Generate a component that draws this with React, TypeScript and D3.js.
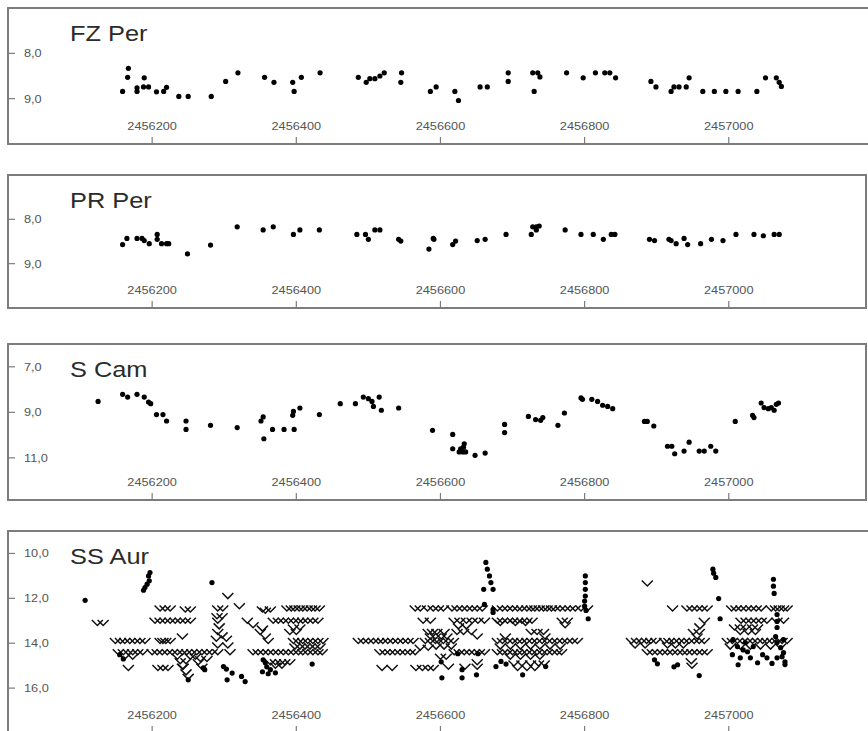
import React from "react";
import * as d3 from "d3";

// Julian dates are stored as days after JD0
const JD0 = 2456000;
const xTicks = [2456200, 2456400, 2456600, 2456800, 2457000];

const fzPer: [number, number][] = [
  [159, 8.84], [167, 8.33], [166, 8.53], [179, 8.84], [179, 8.76], [189, 8.54], [188, 8.74], [195, 8.74],
  [206, 8.85], [216, 8.84], [220, 8.75], [237, 8.95], [250, 8.95], [282, 8.95], [302, 8.62], [319, 8.43],
  [356, 8.53], [369, 8.64], [395, 8.64], [397, 8.84], [407, 8.53], [433, 8.43], [486, 8.53], [497, 8.64],
  [502, 8.56], [509, 8.56], [516, 8.5], [522, 8.43], [546, 8.43], [545, 8.64], [586, 8.84], [594, 8.74],
  [620, 8.84], [625, 9.04], [655, 8.74], [665, 8.74], [694, 8.43], [694, 8.62], [728, 8.43], [735, 8.43],
  [738, 8.52], [730, 8.84], [775, 8.43], [798, 8.54], [815, 8.43], [828, 8.43], [835, 8.43], [843, 8.54],
  [892, 8.62], [899, 8.74], [920, 8.84], [924, 8.74], [931, 8.74], [941, 8.74], [945, 8.54], [964, 8.84],
  [980, 8.84], [996, 8.84], [1013, 8.84], [1039, 8.84], [1051, 8.54], [1066, 8.54], [1070, 8.64], [1073, 8.73],
];

const prPer: [number, number][] = [
  [159, 8.57], [165, 8.43], [179, 8.43], [186, 8.43], [189, 8.48], [196, 8.55], [207, 8.34], [207, 8.45],
  [213, 8.55], [220, 8.55], [223, 8.55], [249, 8.78], [281, 8.58], [318, 8.17], [354, 8.24], [368, 8.17],
  [396, 8.34], [405, 8.24], [432, 8.24], [484, 8.34], [496, 8.34], [500, 8.45], [509, 8.24], [516, 8.24],
  [542, 8.45], [545, 8.49], [584, 8.67], [590, 8.43], [591, 8.45], [617, 8.57], [621, 8.49], [651, 8.48],
  [662, 8.45], [691, 8.34], [726, 8.34], [728, 8.17], [733, 8.17], [737, 8.15], [733, 8.24], [773, 8.24],
  [795, 8.34], [812, 8.34], [826, 8.45], [837, 8.34], [842, 8.34], [890, 8.45], [897, 8.48], [917, 8.45],
  [920, 8.48], [927, 8.55], [938, 8.43], [943, 8.57], [961, 8.55], [976, 8.45], [992, 8.48], [1010, 8.34],
  [1035, 8.34], [1048, 8.37], [1063, 8.34], [1070, 8.34],
];

const sCam: [number, number][] = [
  [125, 8.52], [159, 8.21], [166, 8.33], [179, 8.21], [189, 8.33], [195, 8.55], [198, 8.62], [206, 9.1],
  [215, 9.1], [220, 9.38], [247, 9.38], [247, 9.75], [281, 9.57], [318, 9.67], [351, 9.38], [354, 9.2],
  [355, 10.16], [367, 9.75], [383, 9.75], [397, 9.75], [395, 9.13], [396, 8.96], [405, 8.81], [432, 9.1],
  [461, 8.62], [482, 8.62], [493, 8.33], [500, 8.4], [505, 8.52], [507, 8.74], [515, 8.33], [518, 8.91],
  [542, 8.81], [589, 9.79], [617, 9.97], [617, 10.6], [626, 10.74], [631, 10.74], [633, 10.38], [635, 10.74],
  [628, 10.6], [632, 10.53], [648, 10.89], [662, 10.79], [689, 9.53], [689, 9.89], [722, 9.18], [732, 9.32],
  [739, 9.35], [742, 9.23], [763, 9.57], [772, 9.03], [795, 8.37], [797, 8.43], [810, 8.43], [818, 8.52],
  [825, 8.69], [832, 8.74], [839, 8.84], [883, 9.4], [887, 9.4], [896, 9.6], [915, 10.49], [921, 10.49],
  [925, 10.82], [938, 10.7], [945, 10.31], [959, 10.7], [966, 10.7], [975, 10.49], [982, 10.7], [1009, 9.4],
  [1033, 9.13], [1035, 9.23], [1045, 8.59], [1049, 8.79], [1055, 8.84], [1059, 8.79], [1063, 8.91], [1066, 8.65],
  [1069, 8.59],
];

const ssAurObs: [number, number][] = [
  [107, 12.09], [197, 10.85], [195, 11.0], [196, 11.22], [193, 11.37], [190, 11.52], [188, 11.64], [283, 11.3],
  [155, 14.51], [160, 14.7], [250, 15.63], [271, 15.1], [273, 15.18], [299, 15.04], [303, 15.15], [311, 15.33],
  [304, 15.63], [324, 15.48], [329, 15.71], [354, 14.74], [357, 14.87], [359, 15.05], [364, 15.18], [353, 15.27],
  [361, 15.36], [371, 15.32], [422, 14.93],
  [663, 10.4], [665, 10.7], [668, 11.0], [670, 11.3], [673, 11.6], [660, 11.6], [661, 12.27], [673, 12.49], [673, 12.63],
  [801, 11.0], [801, 11.3], [801, 11.6], [801, 11.9], [800, 12.12], [800, 12.35], [802, 12.54], [805, 12.91],
  [601, 14.83], [602, 15.54], [630, 15.18], [630, 15.54], [650, 15.41], [677, 15.04], [684, 14.81], [691, 14.93],
  [714, 15.41], [746, 15.04], [624, 14.47], [652, 14.47],
  [897, 14.74], [901, 14.92], [924, 15.05], [929, 14.96], [959, 15.44], [978, 10.7], [982, 11.07], [979, 10.88],
  [986, 12.01], [988, 12.91], [1062, 11.15], [1062, 11.46], [1063, 11.78], [1067, 12.72], [1067, 13.03], [1067, 13.3],
  [1006, 13.84], [1005, 14.51], [1012, 14.15], [1016, 14.65], [1013, 14.96], [1023, 13.97], [1026, 14.38], [1030, 14.65],
  [1034, 14.15], [1040, 14.87], [1047, 14.51], [1053, 14.65], [1065, 13.7], [1067, 13.97], [1072, 14.2], [1076, 13.84],
  [1074, 14.6], [1078, 14.83], [1076, 14.42], [1067, 14.65], [1060, 14.9], [1020, 14.3], [1078, 14.95],
];

// "fainter than" limits (drawn as V marks)
const ssAurLimits: [number, number][] = [
  [124, 13.1], [132, 13.1],
  [149, 13.9], [156, 13.9], [162, 13.9], [169, 13.9], [176, 13.9], [183, 13.9], [190, 13.9],
  [211, 13.9], [215, 13.9], [219, 13.9], [225, 13.9],
  [153, 14.4], [160, 14.4], [167, 14.4], [173, 14.4], [180, 14.4], [187, 14.4],
  [200, 14.4], [207, 14.4], [214, 14.4], [221, 14.4], [228, 14.4], [235, 14.4], [242, 14.4], [248, 14.4], [255, 14.4],
  [262, 14.4], [269, 14.4], [276, 14.4], [283, 14.4],
  [162, 14.6], [173, 14.6], [167, 15.1], [208, 15.1], [215, 15.1], [222, 15.1],
  [211, 12.45], [218, 12.45], [225, 12.45], [246, 12.5], [253, 12.5], [291, 12.45], [298, 12.45],
  [204, 13.0], [211, 13.0], [218, 13.0], [225, 13.0], [232, 13.0], [239, 13.0], [246, 13.0], [253, 13.0],
  [242, 13.7],
  [235, 14.6], [239, 14.8], [243, 15.05], [247, 15.3], [250, 15.5], [253, 14.6], [247, 14.8], [242, 15.05],
  [260, 14.6], [264, 14.85], [269, 15.05], [276, 14.7], [267, 14.7],
  [305, 11.9], [290, 12.8], [297, 12.8], [291, 13.0], [293, 13.25], [291, 13.5], [289, 13.8], [303, 13.8],
  [291, 14.1], [305, 14.1], [308, 14.4], [297, 13.65], [291, 14.4],
  [321, 12.35],
  [332, 13.0], [340, 13.2], [350, 13.5], [357, 13.7], [361, 13.9], [353, 13.35],
  [357, 12.55], [353, 12.5], [364, 12.5],
  [340, 14.4], [347, 14.4], [354, 14.4], [361, 14.4], [368, 14.4], [375, 14.4], [382, 14.4], [389, 14.4],
  [396, 14.4], [403, 14.4], [409, 14.4], [416, 14.4], [423, 14.4], [430, 14.4], [436, 14.4],
  [398, 14.15], [405, 14.15], [412, 14.15], [419, 14.15], [426, 14.15], [433, 14.15],
  [396, 13.9], [403, 13.9], [409, 13.9], [416, 13.9], [423, 13.9], [430, 13.9], [437, 13.9],
  [368, 13.0], [375, 13.0], [382, 13.0], [389, 13.0], [396, 13.0], [403, 13.0], [409, 13.0], [416, 13.0], [423, 13.0], [430, 13.0],
  [387, 12.45], [393, 12.45], [398, 12.45], [404, 12.45], [409, 12.45], [415, 12.45], [421, 12.45], [426, 12.45], [432, 12.45],
  [396, 13.3], [405, 13.3],
  [364, 14.85], [371, 14.85], [378, 14.85], [384, 14.85], [391, 14.85], [371, 15.0], [380, 15.0],
  [391, 13.5], [400, 13.5],
  [486, 13.9], [493, 13.9], [500, 13.9], [507, 13.9], [514, 13.9], [520, 13.9], [527, 13.9], [534, 13.9],
  [541, 13.9], [548, 13.9], [555, 13.9], [562, 13.9],
  [516, 14.4], [523, 14.4], [530, 14.4], [537, 14.4], [544, 14.4], [551, 14.4], [558, 14.4], [565, 14.4],
  [519, 15.1], [533, 15.1], [566, 15.1], [575, 15.1], [583, 15.1], [590, 15.1],
  [565, 12.45], [572, 12.45], [582, 12.45], [590, 12.45],
  [576, 13.0], [586, 13.0],
  [583, 13.5], [589, 13.5], [586, 13.7], [579, 13.9], [586, 13.9], [593, 13.9],
  [572, 14.2], [583, 14.2],
  [597, 12.45], [604, 12.45], [616, 12.45], [623, 12.45], [630, 12.45], [637, 12.45], [644, 12.45], [651, 12.45], [658, 12.45],
  [619, 13.0], [627, 13.0], [636, 13.0], [644, 13.0], [652, 13.0], [661, 13.0],
  [625, 13.25], [636, 13.25],
  [595, 13.5], [605, 13.5], [623, 13.5], [632, 13.5], [643, 13.5],
  [593, 13.7], [601, 13.7], [609, 13.7], [651, 13.7],
  [597, 13.9], [604, 13.9], [611, 13.9], [618, 13.9],
  [594, 14.15], [605, 14.15], [615, 14.15],
  [619, 14.4], [626, 14.4], [633, 14.4], [640, 14.4], [647, 14.4], [654, 14.4], [661, 14.4],
  [651, 14.85], [651, 15.05], [634, 15.05], [611, 15.05], [600, 14.6], [608, 14.6],
  [679, 12.45], [686, 12.45], [693, 12.45], [700, 12.45], [707, 12.45], [713, 12.45], [720, 12.45], [726, 12.45],
  [731, 12.45], [737, 12.45], [743, 12.45], [748, 12.45], [754, 12.45], [759, 12.45], [766, 12.45], [773, 12.45],
  [780, 12.45], [787, 12.45],
  [679, 13.0], [686, 13.0], [693, 13.0], [700, 13.0], [707, 13.0], [713, 13.0], [720, 13.0], [727, 13.0],
  [683, 13.1], [704, 13.1], [718, 13.1], [769, 13.0], [776, 13.0], [773, 13.2],
  [726, 13.5], [734, 13.5], [743, 13.5], [690, 13.7], [745, 13.7],
  [679, 13.9], [686, 13.9], [693, 13.9], [700, 13.9], [707, 13.9], [713, 13.9], [720, 13.9], [727, 13.9],
  [734, 13.9], [741, 13.9], [748, 13.9], [755, 13.9], [762, 13.9], [769, 13.9], [776, 13.9], [783, 13.9], [790, 13.9],
  [683, 14.15], [697, 14.15], [711, 14.15], [725, 14.15], [738, 14.15], [752, 14.15], [766, 14.15],
  [679, 14.4], [686, 14.4], [693, 14.4], [700, 14.4], [707, 14.4], [713, 14.4], [720, 14.4], [727, 14.4],
  [734, 14.4], [741, 14.4], [748, 14.4], [755, 14.4], [762, 14.4], [768, 14.4],
  [697, 14.6], [711, 14.6], [725, 14.6], [738, 14.6],
  [702, 14.9], [713, 14.9], [725, 14.9], [736, 14.9], [744, 14.9],
  [707, 15.1], [720, 15.1], [731, 15.1],
  [795, 12.45], [804, 12.45],
  [887, 11.34],
  [922, 12.45], [942, 12.45], [949, 12.45], [956, 12.45], [963, 12.45], [970, 12.45],
  [966, 13.0], [951, 13.5], [959, 13.5], [956, 13.7], [960, 13.25],
  [865, 13.9], [872, 13.9], [879, 13.9], [886, 13.9], [892, 13.9], [899, 13.9],
  [911, 13.9], [917, 13.9], [924, 13.9], [931, 13.9], [938, 13.9], [945, 13.9], [952, 13.9], [959, 13.9], [966, 13.9],
  [870, 14.1], [884, 14.1], [915, 14.1], [926, 14.1], [937, 14.1],
  [887, 14.4], [894, 14.4], [901, 14.4], [908, 14.4],
  [915, 14.4], [922, 14.4], [929, 14.4], [936, 14.4], [942, 14.4], [949, 14.4], [956, 14.4], [963, 14.4], [970, 14.4],
  [948, 14.8], [949, 15.0],
  [1004, 12.45], [1010, 12.45], [1017, 12.45], [1024, 12.45], [1031, 12.45], [1038, 12.45], [1045, 12.45],
  [1059, 12.45], [1065, 12.45], [1070, 12.45], [1076, 12.45], [1081, 12.45],
  [1017, 13.0], [1024, 13.0], [1031, 13.0], [1038, 13.0], [1045, 13.0], [1053, 13.0], [1067, 13.0], [1076, 13.0],
  [1008, 13.3], [1016, 13.3], [1024, 13.3], [1033, 13.3], [1040, 13.3],
  [1016, 13.5], [1027, 13.5], [1037, 13.5],
  [998, 13.9], [1005, 13.9], [1012, 13.9], [1019, 13.9], [1026, 13.9], [1033, 13.9], [1040, 13.9], [1047, 13.9],
  [1053, 13.9], [1060, 13.9], [1067, 13.9], [1074, 13.9], [1081, 13.9],
  [1002, 14.15], [1016, 14.15], [1030, 14.15], [1044, 14.15], [1058, 14.15], [1072, 14.15],
];

const starNames = ["FZ Per", "PR Per", "S Cam", "SS Aur"];
const magDomains: [number, number][] = [[7, 10], [7, 10], [6, 12.85], [9, 18]];
const magTicks = [[8, 9], [8, 9], [7, 9, 11], [10, 12, 14, 16]];
const observations = [fzPer, prPer, sCam, ssAurObs];
const limits: [number, number][][] = [[], [], [], ssAurLimits];

// layout (pixel geometry)
const W = 868, H = 731;
const LEFT = 8;
const frames = [
  { top: 8, bottom: 144, right: 872 },
  { top: 175, bottom: 308, right: 866 },
  { top: 344, bottom: 500, right: 866 },
  { top: 531, bottom: 733, right: 872 },
];
const SX = 1.18; // horizontal stretch of the lettering
const FONT = "'Liberation Sans', Arial, sans-serif";

const x = d3.scaleLinear().domain([JD0, 2457190]).range([LEFT, 865.7]);
const fmt = (v: number) => d3.format(".1f")(v).replace(".", ",");

function Panel({ i }: { i: number }) {
  const f = frames[i];
  const y = d3.scaleLinear().domain(magDomains[i]).range([f.top, f.bottom]);
  const frameColor = "#7c7c7c";
  return (
    <g>
      <rect x={LEFT} y={f.top} width={f.right - LEFT} height={f.bottom - f.top}
        fill="white" stroke={frameColor} strokeWidth={2} />
      <text transform={`translate(70,${f.top + 32.5}) scale(${SX},1)`}
        fontFamily={FONT} fontSize={21.5} fill="#2b2b2b">{starNames[i]}</text>
      {magTicks[i].map((t) => (
        <g key={t}>
          <line x1={LEFT} x2={LEFT + 7} y1={y(t)} y2={y(t)} stroke={frameColor} strokeWidth={1.2} />
          <text transform={`translate(24,${y(t) + 4}) scale(${SX},1)`} fontFamily={FONT}
            fontSize={10.8} fill="#555">{fmt(t)}</text>
        </g>
      ))}
      {xTicks.map((t) => (
        <g key={t}>
          <line x1={x(t)} x2={x(t)} y1={f.bottom - 7} y2={f.bottom} stroke={frameColor} strokeWidth={1.2} />
          <text transform={`translate(${x(t)},${f.bottom - 14}) scale(${SX},1)`} textAnchor="middle"
            fontFamily={FONT} fontSize={10.8} fill="#555">{t}</text>
        </g>
      ))}
      {limits[i].map(([d, m], k) => {
        const cx = x(JD0 + d), cy = y(m);
        return (
          <path key={"l" + k} d={`M${cx - 5.5},${cy - 3}L${cx},${cy + 2.5}L${cx + 5.5},${cy - 3}`}
            fill="none" stroke="#111" strokeWidth={1.5} />
        );
      })}
      {observations[i].map(([d, m], k) => (
        <circle key={"o" + k} cx={x(JD0 + d)} cy={y(m)} r={2.6} fill="#000" />
      ))}
    </g>
  );
}

export default function App() {
  return (
    <svg width={W} height={H} style={{ position: "absolute", left: 0, top: 0, background: "white" }}>
      <rect width={W} height={H} fill="white" />
      {[0, 1, 2, 3].map((i) => <Panel key={i} i={i} />)}
    </svg>
  );
}
